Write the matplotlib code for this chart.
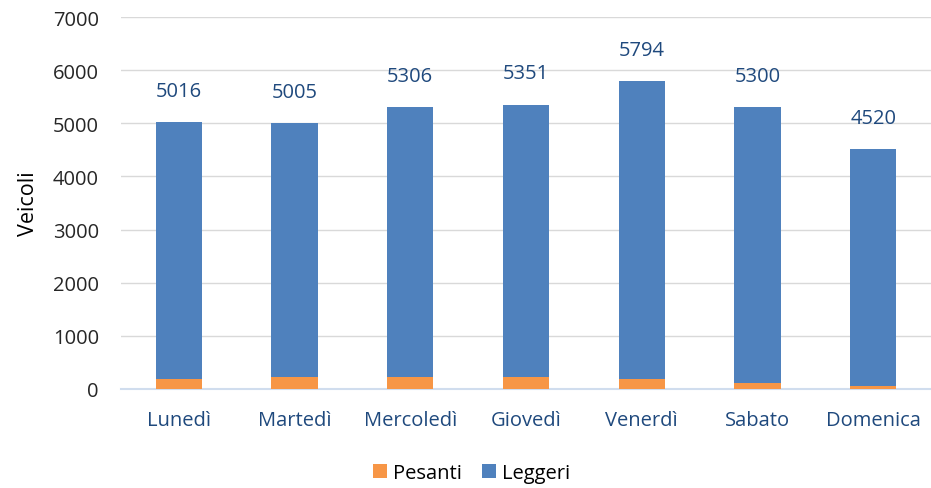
import matplotlib
matplotlib.use("Agg")
import matplotlib.pyplot as plt
import numpy as np

giorni = ["Lunedì", "Martedì", "Mercoledì", "Giovedì", "Venerdì", "Sabato", "Domenica"]
totali = [5016, 5005, 5306, 5351, 5794, 5300, 4520]
pesanti = [190, 230, 230, 220, 185, 115, 65]
leggeri = [t - p for t, p in zip(totali, pesanti)]

plt.rcParams['font.family'] = ['Open Sans', 'DejaVu Sans']

fig = plt.figure(figsize=(9.31, 4.89), dpi=100)
ax = fig.add_axes([0.130, 0.2025, 0.870, 0.7605])

x = np.arange(len(giorni))
orange = "#F79646"
blue = "#4F81BD"
label_col = "#1F497D"

ax.bar(x, pesanti, width=0.4, color=orange, label="Pesanti", zorder=3)
ax.bar(x, leggeri, width=0.4, bottom=pesanti, color=blue, label="Leggeri", zorder=3)

for xi, t in zip(x, totali):
    ax.text(xi, t + 400, str(t), ha="center", va="bottom", fontsize=14.5, color=label_col)

ax.set_xlim(-0.5, len(giorni) - 0.5)
ax.set_ylim(0, 7000)
ax.set_yticks(range(0, 7001, 1000))
ax.yaxis.grid(True, color="#D9D9D9", linewidth=1, zorder=0)
for s in ["top", "right", "left"]:
    ax.spines[s].set_visible(False)
ax.spines["bottom"].set_color("#D0DDEE")
ax.spines["bottom"].set_linewidth(1.5)
ax.tick_params(axis="y", length=0, labelsize=14.5, colors="#262626", pad=16)
ax.tick_params(axis="x", length=0, labelsize=14.5, labelcolor=label_col, pad=15)
ax.set_xticks(x)
ax.set_xticklabels(giorni)
ax.set_ylabel("Veicoli", fontsize=15.5, color="#000000", labelpad=10)

ax.legend(loc="upper center", bbox_to_anchor=(0.433, -0.15), ncol=2, frameon=False,
          fontsize=14.5, handlelength=0.7, handleheight=0.7, handletextpad=0.3, columnspacing=1.0)

fig.savefig("out.png", dpi=100)
